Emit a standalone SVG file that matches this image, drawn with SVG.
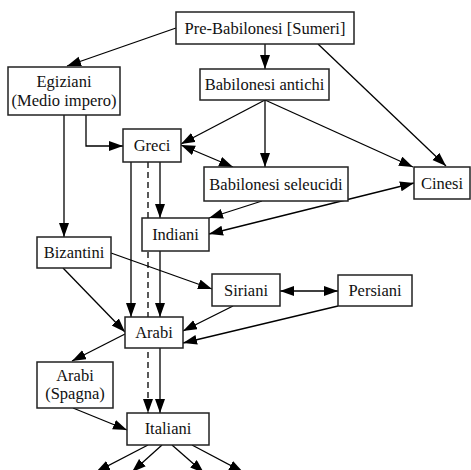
<svg xmlns="http://www.w3.org/2000/svg" width="471" height="470" viewBox="0 0 471 470">
<style>
.box{fill:#fff;stroke:#222;stroke-width:1.5}
.lbl{font-family:'Liberation Serif','Times New Roman',Times,'DejaVu Serif',serif;font-size:16.5px;fill:#111;text-anchor:middle}
.c{fill:none;stroke:#000;stroke-width:1.3;marker-end:url(#ah)}
.d{marker-start:url(#ah)}
.dash{stroke-dasharray:6,4}
</style>
<defs>
<marker id="ah" markerUnits="userSpaceOnUse" markerWidth="15" markerHeight="11" refX="14" refY="5" orient="auto-start-reverse">
<path d="M0,0 L14,5 L0,10 z" fill="#000"/>
</marker>
</defs>
<rect width="471" height="470" fill="#fff"/>
<g id="connectors">
<line class="c" x1="176" y1="28" x2="67" y2="66"/>
<line class="c" x1="265" y1="44" x2="265" y2="69"/>
<line class="c" x1="318" y1="44" x2="446" y2="166"/>
<line class="c" x1="265" y1="100" x2="181" y2="144"/>
<line class="c" x1="265" y1="100" x2="265" y2="167"/>
<line class="c" x1="265" y1="100" x2="413" y2="167"/>
<path class="c" d="M86,115 V146 H123"/>
<line class="c" x1="64" y1="115" x2="64" y2="237"/>
<line class="c d" x1="181" y1="145" x2="233" y2="167"/>
<line class="c" x1="160" y1="162" x2="160" y2="218"/>
<line class="c" x1="131" y1="162" x2="131" y2="317"/>
<line class="c dash" x1="148" y1="162" x2="148" y2="413"/>
<line class="c" x1="160" y1="251" x2="160" y2="317"/>
<line class="c" x1="160" y1="348" x2="160" y2="413"/>
<line class="c" x1="262" y1="201" x2="209" y2="218"/>
<line class="c d" x1="209" y1="234" x2="414" y2="183"/>
<line class="c" x1="111" y1="253" x2="212" y2="289"/>
<line class="c" x1="63" y1="268" x2="125" y2="332"/>
<line class="c d" x1="280" y1="291" x2="338" y2="291"/>
<line class="c" x1="233" y1="306" x2="183" y2="331"/>
<line class="c" x1="338" y1="306" x2="183" y2="343"/>
<line class="c" x1="125" y1="334" x2="72" y2="361"/>
<line class="c" x1="73" y1="408" x2="127" y2="430"/>
<line class="c" x1="148" y1="445" x2="96" y2="472"/>
<line class="c" x1="162" y1="445" x2="132" y2="472"/>
<line class="c" x1="172" y1="445" x2="204" y2="473"/>
<line class="c" x1="192" y1="445" x2="243" y2="472"/>
</g>
<g id="pre-babilonesi"><rect class="box" x="176" y="12" width="178" height="32"/><text class="lbl" font-family="Liberation Serif, serif" x="265" y="34">Pre-Babilonesi [Sumeri]</text></g>
<g id="egiziani"><rect class="box" x="8" y="67" width="112" height="48"/><text class="lbl" x="64" y="87">Egiziani</text><text class="lbl" x="64" y="106">(Medio impero)</text></g>
<g id="babilonesi-antichi"><rect class="box" x="200" y="69" width="129" height="31"/><text class="lbl" x="264.5" y="90">Babilonesi antichi</text></g>
<g id="greci"><rect class="box" x="123" y="129" width="58" height="33"/><text class="lbl" x="152" y="151">Greci</text></g>
<g id="babilonesi-seleucidi"><rect class="box" x="204" y="167" width="144" height="34"/><text class="lbl" x="276" y="190">Babilonesi seleucidi</text></g>
<g id="cinesi"><rect class="box" x="414" y="167" width="56" height="32"/><text class="lbl" x="442" y="189">Cinesi</text></g>
<g id="indiani"><rect class="box" x="142" y="218" width="67" height="33"/><text class="lbl" x="175.5" y="240">Indiani</text></g>
<g id="bizantini"><rect class="box" x="37" y="237" width="74" height="31"/><text class="lbl" x="74" y="258">Bizantini</text></g>
<g id="siriani"><rect class="box" x="212" y="274" width="68" height="32"/><text class="lbl" x="246" y="296">Siriani</text></g>
<g id="persiani"><rect class="box" x="338" y="275" width="74" height="31"/><text class="lbl" x="375" y="296">Persiani</text></g>
<g id="arabi"><rect class="box" x="125" y="317" width="58" height="31"/><text class="lbl" x="154" y="338">Arabi</text></g>
<g id="arabi-spagna"><rect class="box" x="37" y="362" width="76" height="46"/><text class="lbl" x="75" y="381">Arabi</text><text class="lbl" x="75" y="399">(Spagna)</text></g>
<g id="italiani"><rect class="box" x="127" y="413" width="82" height="32"/><text class="lbl" x="168" y="434">Italiani</text></g>
</svg>
